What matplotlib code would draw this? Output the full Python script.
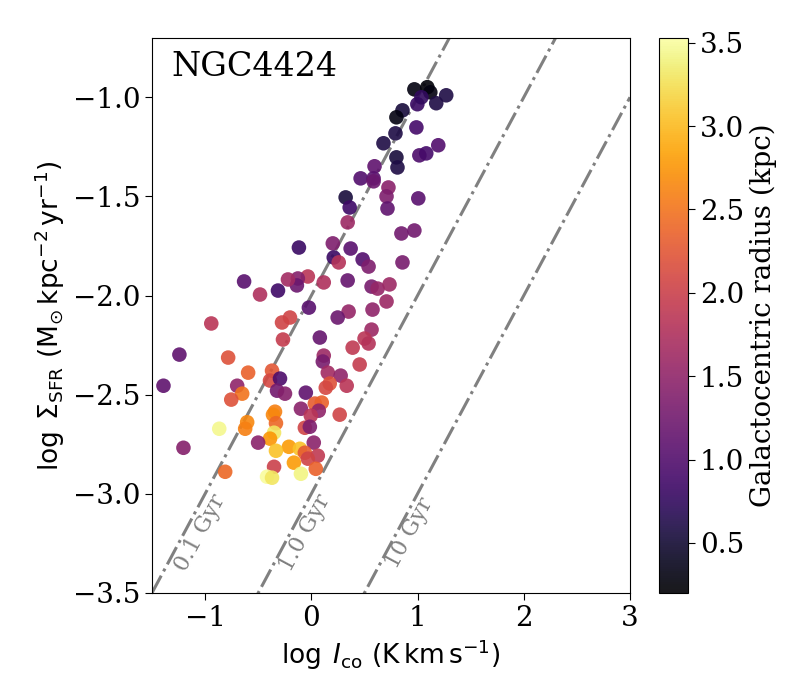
import matplotlib
matplotlib.use("Agg")
import matplotlib.pyplot as plt
import numpy as np

plt.rcParams['font.family'] = ['DejaVu Serif']
plt.rcParams['mathtext.fontset'] = 'dejavusans'

# log I_CO (K km/s)
log_ico = [0.970, 1.092, 1.120, 1.270, 1.176, 0.998, 1.036, 0.858, 0.801, 0.792,
           0.989, 0.679, 0.801, 0.811, 1.017, 1.082, 1.195, 0.595, 0.464, 0.586,
           0.586, 0.726, 0.708, 0.717, 1.007, 0.323, 0.361, 0.342, 0.848, 0.970,
           0.202, 0.370, 0.211, 0.258, -0.117, 0.483, 0.539, 0.858, 0.117, 0.342,
           0.567, 0.624, 0.736, 0.708, 0.576, 0.351, 0.248, -0.023, -0.033, -0.127,
           -0.136, -0.220, -0.314, -0.483, -0.633, -0.942, -0.276, -0.201, -0.267, 0.080,
           0.567, 0.501, 0.539, 0.389, -1.242, -0.783, 0.117, 0.108, 0.455, -0.595,
           -0.370, -0.389, -0.295, 0.155, 0.276, 0.333, 0.173, 0.136, -0.698, -0.651,
           -0.754, -1.392, -0.323, -0.248, -0.052, 0.033, 0.098, 0.070, -0.098, -0.005,
           -0.342, -0.361, 0.267, -0.604, -0.623, -0.867, -0.333, -0.061, -0.014, -0.351,
           -0.389, -0.501, 0.023, -0.211, -0.333, -0.108, -0.061, 0.061, -0.033, -0.164,
           -1.204, -0.351, -0.811, 0.042, -0.417, -0.370, -0.098]

# log Sigma_SFR (Msun kpc^-2 yr^-1)
log_sfr = [-0.960, -0.949, -0.975, -0.990, -1.030, -1.035, -1.000, -1.066, -1.101, -1.182,
           -1.152, -1.232, -1.303, -1.354, -1.293, -1.283, -1.242, -1.348, -1.409, -1.409,
           -1.424, -1.455, -1.500, -1.561, -1.510, -1.505, -1.556, -1.631, -1.687, -1.672,
           -1.737, -1.763, -1.808, -1.833, -1.758, -1.818, -1.854, -1.833, -1.934, -1.924,
           -1.955, -1.965, -1.944, -2.030, -2.071, -2.081, -2.111, -2.061, -1.904, -1.914,
           -1.949, -1.919, -1.975, -1.995, -1.929, -2.141, -2.136, -2.111, -2.222, -2.212,
           -2.172, -2.217, -2.242, -2.263, -2.298, -2.313, -2.303, -2.333, -2.348, -2.389,
           -2.379, -2.429, -2.419, -2.389, -2.404, -2.455, -2.444, -2.465, -2.455, -2.495,
           -2.525, -2.455, -2.480, -2.495, -2.490, -2.545, -2.540, -2.581, -2.571, -2.606,
           -2.586, -2.601, -2.601, -2.639, -2.672, -2.672, -2.644, -2.667, -2.662, -2.692,
           -2.722, -2.742, -2.742, -2.763, -2.783, -2.773, -2.793, -2.808, -2.823, -2.843,
           -2.768, -2.864, -2.889, -2.874, -2.914, -2.919, -2.899]

# galactocentric radius (kpc)
radius = [0.30, 0.25, 0.30, 0.60, 0.60, 0.80, 0.75, 0.55, 0.30, 0.60,
          0.90, 0.60, 0.55, 0.60, 0.95, 0.90, 1.00, 1.10, 1.00, 1.05,
          1.20, 1.45, 1.35, 1.10, 1.05, 0.55, 0.85, 1.60, 1.25, 1.25,
          1.35, 1.05, 0.80, 1.80, 0.80, 1.00, 1.35, 1.30, 1.75, 1.15,
          1.30, 1.55, 1.60, 1.60, 1.50, 1.55, 1.20, 1.05, 1.85, 1.40,
          1.20, 1.65, 0.85, 1.75, 1.05, 1.85, 2.05, 2.05, 1.95, 1.15,
          1.60, 1.85, 1.80, 1.90, 1.10, 2.20, 1.60, 1.30, 1.95, 2.35,
          2.25, 2.10, 0.95, 1.65, 1.50, 1.85, 2.20, 2.10, 1.50, 2.50,
          2.20, 1.10, 1.25, 1.40, 1.10, 2.30, 2.35, 1.50, 1.45, 1.85,
          2.60, 2.65, 2.05, 2.65, 2.60, 3.45, 2.40, 2.05, 1.35, 3.30,
          2.75, 1.45, 1.45, 2.80, 3.05, 3.05, 2.30, 1.90, 2.05, 2.80,
          1.40, 2.00, 2.40, 2.35, 3.50, 3.30, 3.40]

# depletion time lines: log Sigma_SFR = log I_CO + offset
tdep_labels = ["0.1 Gyr", "1.0 Gyr", "10 Gyr"]
tdep_offsets = [-2.0, -3.0, -4.0]
tdep_label_pos = [(-1.045, -3.197), (-0.06, -3.197), (0.923, -3.20)]

fig = plt.figure(figsize=(8, 7), dpi=100)
ax = fig.add_axes([0.19, 0.153, 0.5975, 0.793])
cax = fig.add_axes([0.824, 0.153, 0.036, 0.793])

xl = np.array([-1.5, 3.0])
for lab, off, pos in zip(tdep_labels, tdep_offsets, tdep_label_pos):
    ax.plot(xl, xl + off, color='gray', ls='-.', lw=2.2, zorder=1)
    ax.text(pos[0], pos[1], lab, color='gray', fontsize=16, rotation=61.7,
            ha='center', va='center', zorder=1)

sc = ax.scatter(log_ico, log_sfr, c=radius, cmap='inferno', vmin=0.2, vmax=3.53,
                s=110, alpha=0.9, edgecolors='none', zorder=2)

ax.set_xlim(-1.5, 3.0)
ax.set_ylim(-3.5, -0.7)
ax.set_xticks([-1, 0, 1, 2, 3])
ax.set_yticks([-3.5, -3.0, -2.5, -2.0, -1.5, -1.0])
ax.tick_params(labelsize=20, length=5)
ax.set_xlabel(r'$\log\;I_{\rm co}\ ({\rm K\,km\,s^{-1}})$', fontsize=19)
ax.set_ylabel(r'$\log\;\Sigma_{\rm SFR}\ ({\rm M_{\odot}\,kpc^{-2}\,yr^{-1}})$', fontsize=19)
ax.text(0.04, 0.977, 'NGC4424', transform=ax.transAxes, fontsize=24,
        ha='left', va='top')

cb = fig.colorbar(sc, cax=cax)
cb.set_ticks([0.5, 1.0, 1.5, 2.0, 2.5, 3.0, 3.5])
cb.ax.tick_params(labelsize=20, length=5)
cb.set_label('Galactocentric radius (kpc)', fontsize=20)

fig.savefig('out.png', dpi=100)
